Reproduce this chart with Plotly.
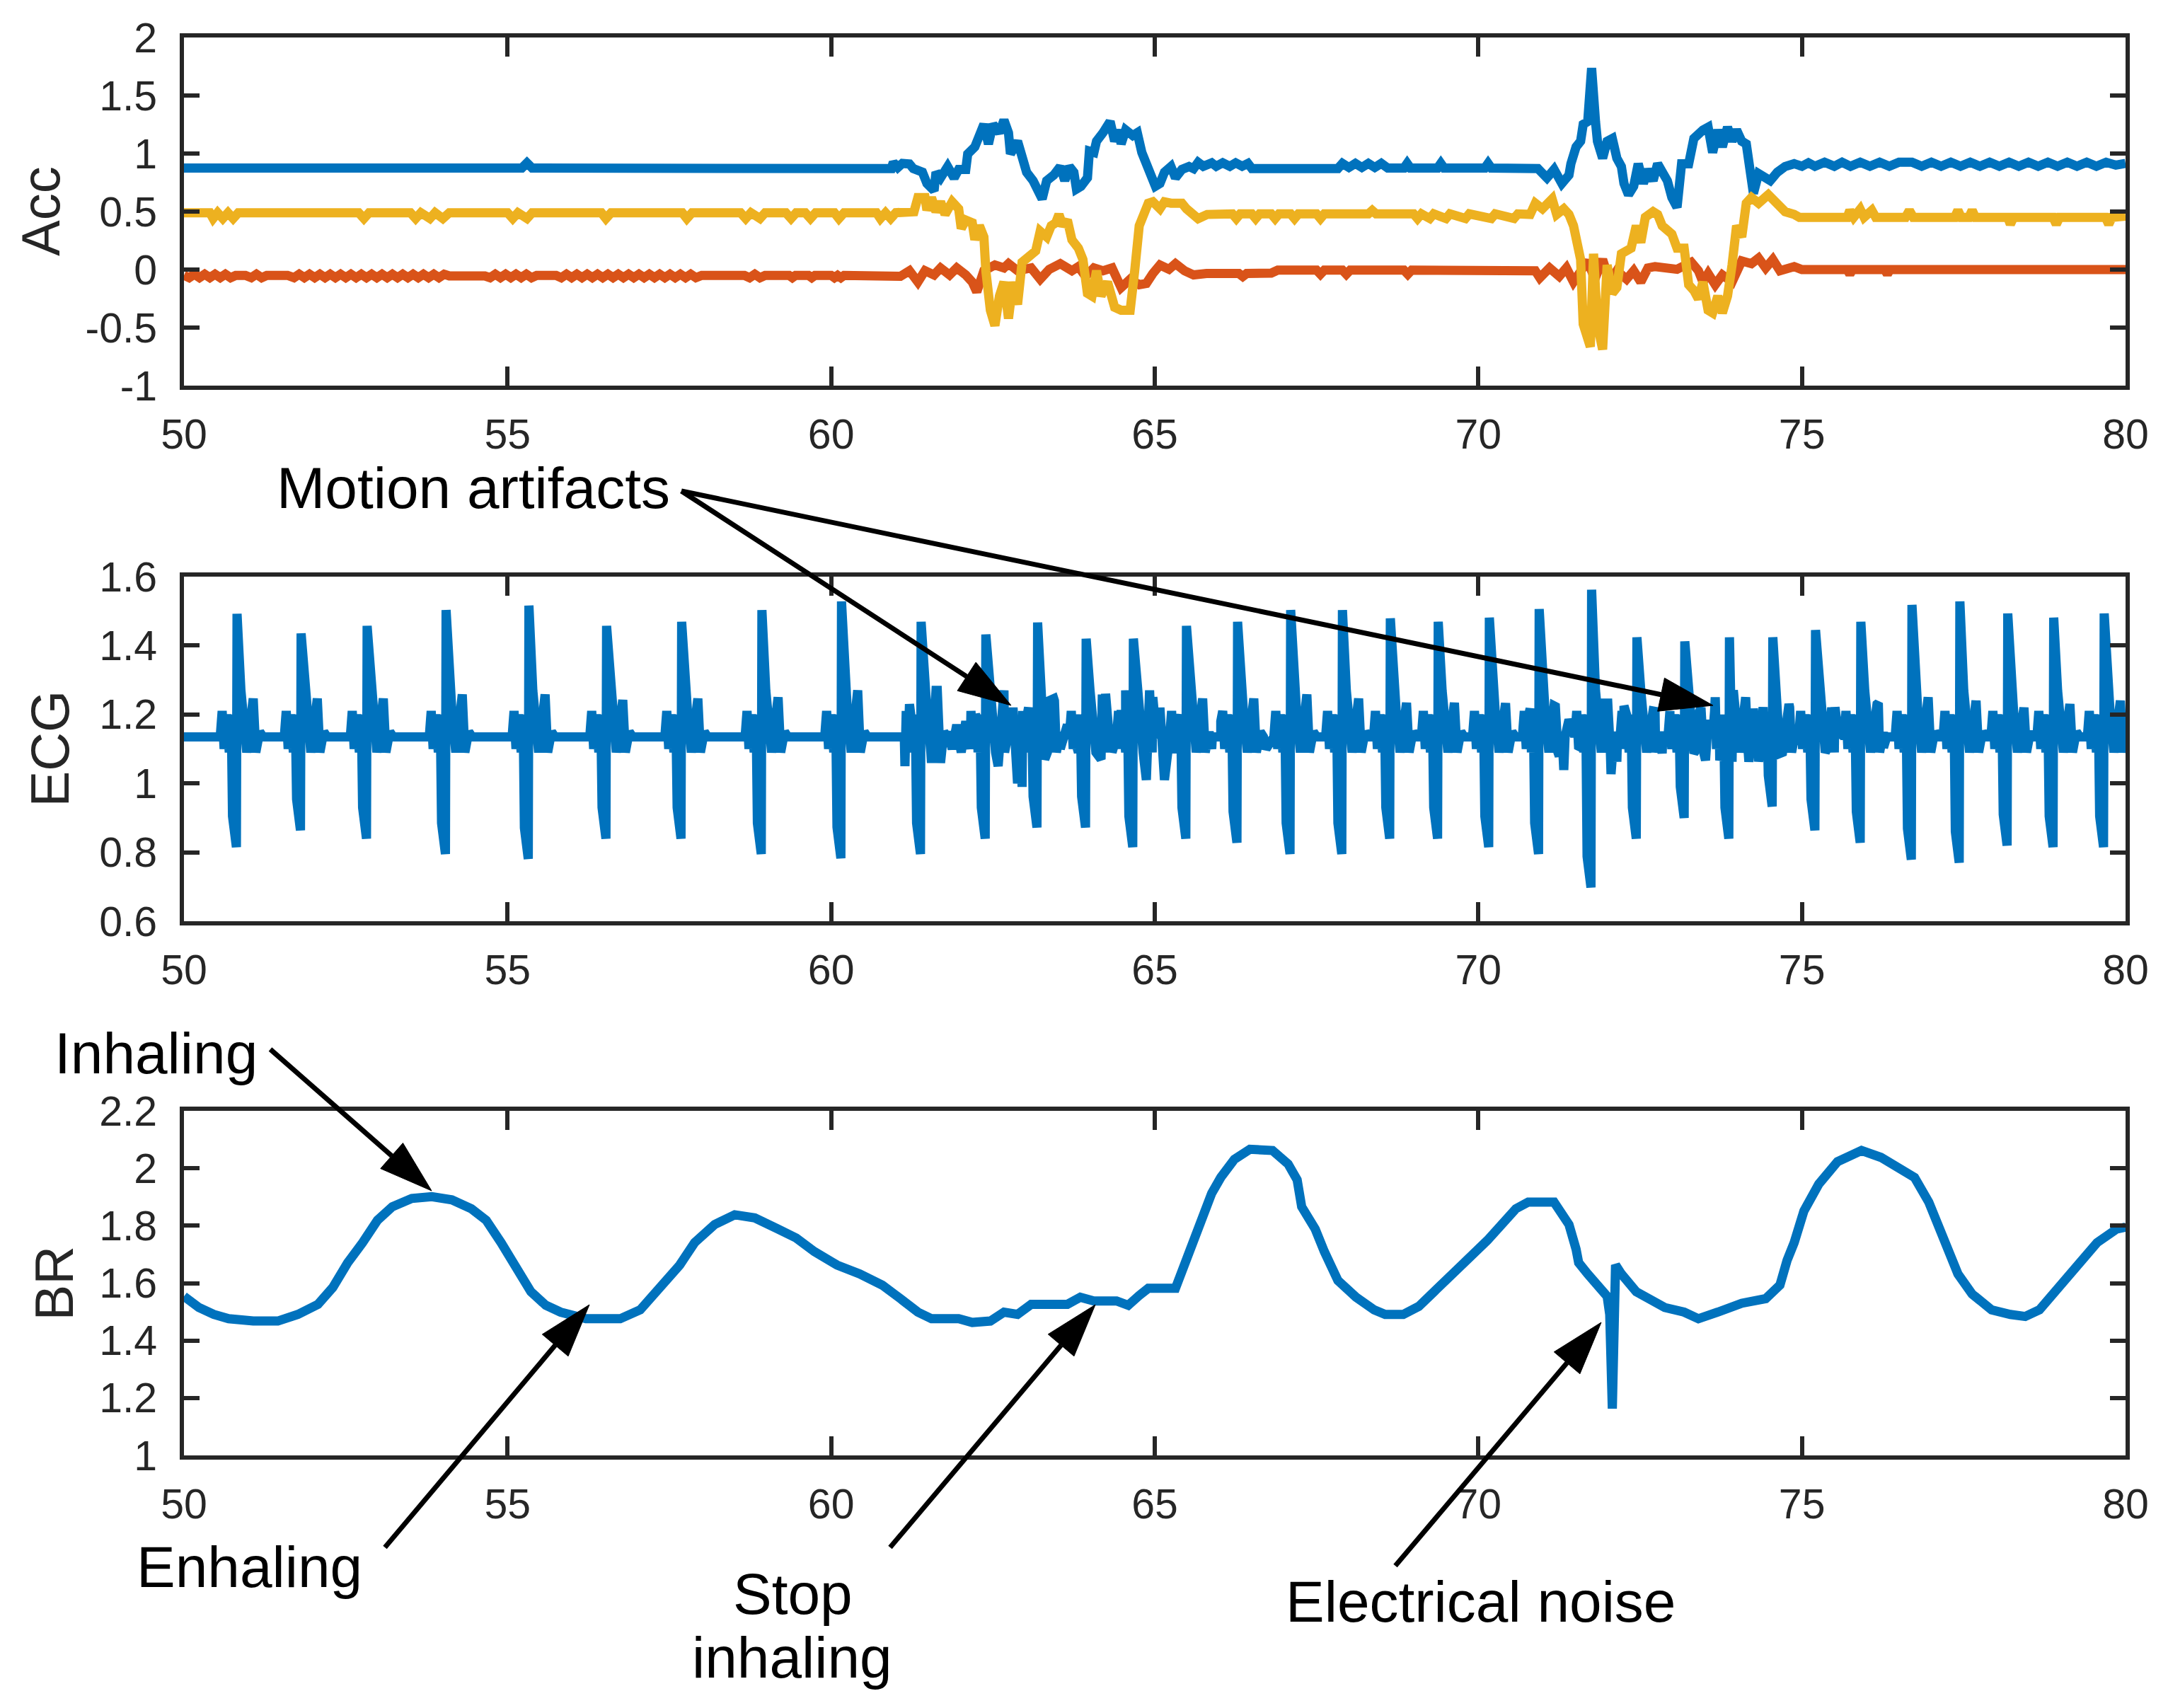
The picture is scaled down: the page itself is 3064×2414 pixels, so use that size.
import plotly.graph_objects as go

W, H = 3064, 2414
OFF = 8  # the page body adds an 8 px margin; compensate so the layout lands where the reference has it

# ---------------- data ----------------
x_ticks = [50, 55, 60, 65, 70, 75, 80]
x_ticktext = ["50", "55", "60", "65", "70", "75", "80"]
acc_ticks = [-1, -0.5, 0, 0.5, 1, 1.5, 2]
acc_ticktext = ["-1", "-0.5", "0", "0.5", "1", "1.5", "2"]
ecg_ticks = [0.6, 0.8, 1.0, 1.2, 1.4, 1.6]
ecg_ticktext = ["0.6", "0.8", "1", "1.2", "1.4", "1.6"]
br_ticks = [1.0, 1.2, 1.4, 1.6, 1.8, 2.0, 2.2]
br_ticktext = ["1", "1.2", "1.4", "1.6", "1.8", "2", "2.2"]

acc_blue_pts = [
    (50.0, 0.875), (55.22, 0.875), (55.30, 0.92), (55.38, 0.875), (60.93, 0.87),
    (60.96, 0.924), (61.03, 0.88), (61.10, 0.915), (61.21, 0.91), (61.27, 0.87),
    (61.41, 0.84), (61.48, 0.742), (61.59, 0.68), (61.62, 0.839), (61.69, 0.79),
    (61.80, 0.888), (61.90, 0.79), (61.97, 0.863), (62.08, 0.863), (62.11, 0.997),
    (62.22, 1.057), (62.25, 1.106), (62.36, 1.252), (62.43, 1.082), (62.50, 1.252),
    (62.60, 1.179), (62.67, 1.288), (62.74, 1.179), (62.77, 0.997), (62.88, 1.106),
    (62.95, 0.985), (63.02, 0.839), (63.12, 0.766), (63.19, 0.694), (63.26, 0.609),
    (63.33, 0.766), (63.44, 0.815), (63.54, 0.888), (63.61, 0.766), (63.68, 0.888),
    (63.75, 0.839), (63.79, 0.694), (63.86, 0.718), (63.96, 0.791), (63.99, 1.021),
    (64.06, 1.009), (64.10, 1.106), (64.20, 1.179), (64.31, 1.276), (64.38, 1.106),
    (64.45, 1.203), (64.48, 1.082), (64.55, 1.203), (64.66, 1.155), (64.73, 1.179),
    (64.80, 1.009), (64.87, 0.912), (64.94, 0.815), (65.01, 0.718), (65.08, 0.742),
    (65.15, 0.839), (65.25, 0.888), (65.32, 0.791), (65.42, 0.863), (65.53, 0.888),
    (65.60, 0.87), (65.67, 0.924), (65.75, 0.89), (65.88, 0.92), (65.95, 0.89),
    (66.05, 0.92), (66.16, 0.89), (66.25, 0.92), (66.35, 0.89), (66.44, 0.915),
    (66.50, 0.871), (67.83, 0.871), (67.90, 0.915), (68.00, 0.88), (68.10, 0.915),
    (68.20, 0.88), (68.30, 0.915), (68.40, 0.88), (68.50, 0.915), (68.60, 0.875),
    (68.85, 0.875), (68.90, 0.915), (68.95, 0.875), (69.37, 0.875), (69.42, 0.915),
    (69.47, 0.875), (70.10, 0.875), (70.15, 0.915), (70.20, 0.875), (70.92, 0.87),
    (71.06, 0.79), (71.17, 0.863), (71.29, 0.742), (71.40, 0.815), (71.43, 0.912),
    (71.51, 1.057), (71.58, 1.106), (71.62, 1.252), (71.69, 1.276), (71.75, 1.737),
    (71.81, 1.276), (71.84, 1.106), (71.92, 0.96), (71.99, 1.106), (72.07, 1.13),
    (72.14, 0.96), (72.21, 0.888), (72.25, 0.742), (72.32, 0.645), (72.40, 0.718),
    (72.47, 0.912), (72.55, 0.742), (72.62, 0.863), (72.70, 0.766), (72.77, 0.912),
    (72.84, 0.839), (72.92, 0.766), (72.99, 0.621), (73.07, 0.536), (73.14, 0.912),
    (73.25, 0.912), (73.33, 1.13), (73.40, 1.179), (73.47, 1.203), (73.55, 1.227),
    (73.62, 1.009), (73.70, 1.203), (73.77, 1.057), (73.85, 1.227), (73.92, 1.106),
    (73.99, 1.203), (74.07, 1.106), (74.14, 1.082), (74.22, 0.694), (74.25, 0.657),
    (74.33, 0.827), (74.51, 0.766), (74.62, 0.839), (74.74, 0.888), (74.88, 0.912),
    (75.00, 0.89), (75.10, 0.92), (75.20, 0.89), (75.35, 0.925), (75.50, 0.89),
    (75.62, 0.925), (75.75, 0.89), (75.90, 0.925), (76.05, 0.89), (76.20, 0.925),
    (76.35, 0.89), (76.50, 0.925), (76.70, 0.925), (76.85, 0.89), (77.00, 0.925),
    (77.15, 0.89), (77.30, 0.925), (77.45, 0.89), (77.60, 0.925), (77.75, 0.89),
    (77.90, 0.925), (78.05, 0.89), (78.20, 0.925), (78.35, 0.89), (78.50, 0.925),
    (78.65, 0.89), (78.80, 0.925), (78.95, 0.89), (79.10, 0.925), (79.25, 0.89),
    (79.40, 0.925), (79.55, 0.89), (79.70, 0.925), (79.85, 0.90), (80.0, 0.915),
]

acc_orange_pts = [
    (50.0, -0.05), (50.08, -0.07), (50.16, -0.04), (50.24, -0.07), (50.32, -0.04),
    (50.40, -0.07), (50.48, -0.04), (50.56, -0.07), (50.64, -0.04), (50.72, -0.07),
    (50.80, -0.05), (50.95, -0.05), (51.04, -0.07), (51.12, -0.04), (51.20, -0.07),
    (51.28, -0.05), (51.60, -0.05), (51.70, -0.07), (51.78, -0.04), (51.86, -0.07),
    (51.94, -0.04), (52.02, -0.07), (52.10, -0.04), (52.18, -0.07), (52.26, -0.04),
    (52.34, -0.07), (52.42, -0.04), (52.50, -0.07), (52.58, -0.04), (52.66, -0.07),
    (52.74, -0.04), (52.82, -0.07), (52.90, -0.04), (52.98, -0.07), (53.06, -0.04),
    (53.14, -0.07), (53.22, -0.04), (53.30, -0.07), (53.38, -0.04), (53.46, -0.07),
    (53.54, -0.04), (53.62, -0.07), (53.70, -0.04), (53.78, -0.07), (53.86, -0.04),
    (53.94, -0.07), (54.02, -0.04), (54.10, -0.055), (54.65, -0.055), (54.73, -0.07),
    (54.81, -0.04), (54.89, -0.07), (54.97, -0.04), (55.05, -0.07), (55.13, -0.04),
    (55.21, -0.07), (55.29, -0.04), (55.37, -0.07), (55.45, -0.05), (55.75, -0.05),
    (55.83, -0.07), (55.91, -0.04), (55.99, -0.07), (56.07, -0.04), (56.15, -0.07),
    (56.23, -0.04), (56.31, -0.07), (56.39, -0.04), (56.47, -0.07), (56.55, -0.04),
    (56.63, -0.07), (56.71, -0.04), (56.79, -0.07), (56.87, -0.04), (56.95, -0.07),
    (57.03, -0.04), (57.11, -0.07), (57.19, -0.04), (57.27, -0.07), (57.35, -0.04),
    (57.43, -0.07), (57.51, -0.04), (57.59, -0.07), (57.67, -0.04), (57.75, -0.07),
    (57.83, -0.04), (57.91, -0.07), (58.00, -0.05), (58.66, -0.05), (58.74, -0.07),
    (58.82, -0.04), (58.90, -0.07), (58.98, -0.05), (59.35, -0.05), (59.40, -0.07),
    (59.45, -0.05), (59.65, -0.05), (59.70, -0.07), (59.75, -0.05), (60.00, -0.05),
    (60.05, -0.07), (60.10, -0.05), (60.15, -0.07), (60.20, -0.05), (61.07, -0.058),
    (61.21, -0.010), (61.34, -0.107), (61.45, -0.010), (61.59, -0.046), (61.69, 0.014),
    (61.83, -0.046), (61.94, 0.014), (62.08, -0.046), (62.18, -0.107), (62.25, -0.192),
    (62.36, -0.010), (62.53, 0.039), (62.67, 0.014), (62.74, 0.051), (62.88, -0.010),
    (63.09, 0.014), (63.23, -0.083), (63.37, 0.002), (63.54, 0.051), (63.72, -0.010),
    (63.82, 0.026), (63.93, -0.058), (64.06, 0.014), (64.20, -0.010), (64.34, 0.014),
    (64.48, -0.155), (64.62, -0.083), (64.76, -0.131), (64.87, -0.119), (64.97, -0.034),
    (65.08, 0.039), (65.22, 0.002), (65.32, 0.051), (65.46, -0.010), (65.60, -0.046),
    (65.80, -0.034), (66.30, -0.034), (66.36, -0.06), (66.42, -0.034), (66.80, -0.03),
    (66.90, -0.005), (67.50, -0.005), (67.56, -0.04), (67.62, -0.005), (67.90, -0.005),
    (67.96, -0.04), (68.02, -0.005), (68.85, -0.005), (68.91, -0.04), (68.97, -0.005),
    (70.88, -0.010), (70.95, -0.071), (71.10, 0.014), (71.25, -0.058), (71.36, 0.014),
    (71.47, -0.107), (71.58, -0.010), (71.69, 0.075), (71.80, -0.083), (71.92, 0.087),
    (72.03, -0.107), (72.14, -0.010), (72.29, -0.083), (72.40, -0.010), (72.51, -0.107),
    (72.62, 0.014), (72.73, 0.026), (72.88, 0.014), (73.07, 0.002), (73.29, 0.063),
    (73.40, -0.010), (73.47, -0.107), (73.55, -0.034), (73.66, -0.131), (73.77, -0.046),
    (73.92, -0.107), (74.07, 0.075), (74.22, 0.051), (74.33, 0.099), (74.44, 0.014),
    (74.55, 0.087), (74.66, -0.010), (74.88, 0.026), (75.00, 0.0), (75.70, 0.0),
    (75.74, -0.04), (75.78, 0.0), (76.28, 0.0), (76.32, -0.04), (76.36, 0.0), (80.0, 0.0),
]

acc_yellow_pts = [
    (50.0, 0.49), (50.40, 0.49), (50.45, 0.44), (50.52, 0.49), (50.60, 0.44),
    (50.68, 0.49), (50.76, 0.44), (50.84, 0.49), (52.70, 0.49), (52.78, 0.44),
    (52.86, 0.49), (53.50, 0.49), (53.58, 0.44), (53.66, 0.49), (53.80, 0.44),
    (53.88, 0.49), (54.00, 0.44), (54.10, 0.49), (55.00, 0.49), (55.08, 0.44),
    (55.16, 0.49), (55.30, 0.44), (55.38, 0.49), (56.45, 0.49), (56.52, 0.44),
    (56.60, 0.49), (57.70, 0.49), (57.77, 0.44), (57.85, 0.49), (58.60, 0.49),
    (58.68, 0.44), (58.76, 0.49), (58.90, 0.44), (58.98, 0.49), (59.30, 0.49),
    (59.38, 0.44), (59.46, 0.49), (59.60, 0.49), (59.68, 0.44), (59.76, 0.49),
    (60.05, 0.49), (60.12, 0.44), (60.20, 0.49), (60.70, 0.49), (60.76, 0.44),
    (60.84, 0.49), (60.92, 0.44), (61.00, 0.49), (61.28, 0.499), (61.34, 0.621),
    (61.45, 0.621), (61.48, 0.512), (61.55, 0.621), (61.62, 0.499), (61.69, 0.584),
    (61.76, 0.475), (61.87, 0.584), (61.97, 0.524), (62.01, 0.354), (62.08, 0.427),
    (62.18, 0.403), (62.22, 0.257), (62.29, 0.378), (62.36, 0.281), (62.39, -0.010),
    (62.46, -0.350), (62.53, -0.483), (62.60, -0.228), (62.67, -0.107), (62.74, -0.422),
    (62.81, -0.107), (62.88, -0.301), (62.95, 0.063), (63.05, 0.111), (63.16, 0.160),
    (63.23, 0.330), (63.33, 0.281), (63.40, 0.378), (63.47, 0.403), (63.52, 0.475),
    (63.58, 0.378), (63.65, 0.427), (63.72, 0.257), (63.82, 0.184), (63.89, 0.087),
    (63.96, -0.204), (64.03, -0.228), (64.10, -0.010), (64.17, -0.228), (64.27, -0.107),
    (64.38, -0.325), (64.48, -0.350), (64.62, -0.350), (64.69, -0.010), (64.76, 0.378),
    (64.83, 0.475), (64.90, 0.572), (64.97, 0.584), (65.08, 0.524), (65.15, 0.584),
    (65.25, 0.572), (65.42, 0.572), (65.49, 0.524), (65.67, 0.439), (65.81, 0.475),
    (66.20, 0.48), (66.26, 0.44), (66.32, 0.48), (66.50, 0.48), (66.56, 0.44),
    (66.62, 0.48), (66.80, 0.48), (66.86, 0.44), (66.92, 0.48), (67.10, 0.48),
    (67.16, 0.44), (67.22, 0.48), (67.50, 0.48), (67.56, 0.44), (67.62, 0.48),
    (68.30, 0.48), (68.36, 0.51), (68.42, 0.48), (69.00, 0.48), (69.06, 0.44),
    (69.12, 0.48), (69.25, 0.44), (69.31, 0.48), (69.50, 0.44), (69.56, 0.48),
    (69.80, 0.44), (69.86, 0.48), (70.20, 0.44), (70.26, 0.48), (70.55, 0.44),
    (70.61, 0.48), (70.80, 0.475), (70.88, 0.572), (70.99, 0.524), (71.14, 0.609),
    (71.21, 0.475), (71.32, 0.524), (71.40, 0.475), (71.47, 0.378), (71.55, 0.184),
    (71.58, 0.087), (71.62, -0.471), (71.73, -0.665), (71.78, 0.136), (71.84, -0.471),
    (71.92, -0.689), (71.99, 0.039), (72.07, -0.204), (72.14, -0.155), (72.21, 0.136),
    (72.29, 0.160), (72.36, 0.184), (72.44, 0.378), (72.51, 0.233), (72.58, 0.451),
    (72.70, 0.499), (72.77, 0.475), (72.84, 0.378), (72.99, 0.306), (73.07, 0.184),
    (73.18, 0.184), (73.25, -0.131), (73.33, -0.180), (73.40, -0.253), (73.47, -0.107),
    (73.55, -0.350), (73.62, -0.374), (73.70, -0.228), (73.77, -0.374), (73.85, -0.228),
    (73.92, 0.039), (73.99, 0.378), (74.07, 0.281), (74.14, 0.572), (74.22, 0.621),
    (74.33, 0.572), (74.48, 0.645), (74.62, 0.572), (74.74, 0.499), (74.88, 0.475),
    (74.96, 0.45), (75.70, 0.45), (75.74, 0.51), (75.80, 0.45), (75.90, 0.52),
    (75.96, 0.45), (76.08, 0.51), (76.14, 0.45), (76.60, 0.45), (76.66, 0.51),
    (76.72, 0.45), (77.36, 0.45), (77.41, 0.51), (77.46, 0.45), (77.58, 0.45),
    (77.63, 0.51), (77.68, 0.45), (78.18, 0.45), (78.22, 0.39), (78.27, 0.45),
    (78.88, 0.45), (78.93, 0.39), (78.98, 0.45), (79.69, 0.45), (79.74, 0.39),
    (79.79, 0.45), (80.0, 0.46),
]

# ECG: beat times, R peaks, S troughs, T-wave peaks
ecg_beat_time = [50.82, 51.81, 52.83, 54.05, 55.33, 56.53, 57.69, 58.93, 60.16, 61.39,
                 62.39, 63.19, 63.94, 64.67, 65.49, 66.28, 67.10, 67.90, 68.64, 69.38,
                 70.17, 70.94, 71.75, 72.45, 73.19, 73.88, 74.55, 75.21, 75.91, 76.70,
                 77.44, 78.18, 78.89, 79.67]
ecg_r_peak = [1.492, 1.435, 1.457, 1.503, 1.516, 1.457, 1.469, 1.503, 1.528, 1.469,
              1.432, 1.467, 1.420, 1.420, 1.457, 1.469, 1.503, 1.503, 1.479, 1.469,
              1.481, 1.506, 1.562, 1.424, 1.412, 1.424, 1.424, 1.445, 1.469, 1.518,
              1.528, 1.493, 1.481, 1.493]
ecg_s_trough = [0.815, 0.864, 0.840, 0.795, 0.781, 0.840, 0.840, 0.795, 0.783, 0.795,
                0.840, 0.872, 0.872, 0.815, 0.840, 0.828, 0.795, 0.795, 0.840, 0.840,
                0.815, 0.795, 0.698, 0.840, 0.900, 0.840, 0.933, 0.864, 0.828, 0.779,
                0.770, 0.820, 0.815, 0.815]
ecg_t_wave = [1.246, 1.246, 1.246, 1.258, 1.258, 1.242, 1.246, 1.250, 1.270, 1.270,
              1.270, 1.246, 1.258, 1.270, 1.246, 1.246, 1.258, 1.246, 1.234, 1.234,
              1.233, 1.223, 1.233, 1.210, 1.220, 1.250, 1.230, 1.220, 1.230, 1.250,
              1.240, 1.220, 1.230, 1.240]
ecg_baseline = 1.135
# noise samples during the motion periods
ecg_artifact_pts = [
    (61.14, 1.05), (61.21, 1.23), (61.28, 1.20), (61.55, 1.06), (61.62, 1.27),
    (61.69, 1.06), (61.80, 1.15), (61.87, 1.10), (61.94, 1.17), (62.01, 1.09),
    (62.08, 1.18), (62.15, 1.10), (62.25, 1.19), (62.58, 1.05), (62.67, 1.27),
    (62.74, 1.15), (62.81, 1.22), (62.88, 1.00), (62.95, 0.99), (63.05, 1.22),
    (63.30, 1.07), (63.37, 1.24), (63.45, 1.24), (63.54, 1.10), (63.65, 1.17),
    (63.79, 1.11), (64.06, 1.17), (64.17, 1.07), (64.24, 1.26), (64.34, 1.09),
    (64.48, 1.20), (64.55, 1.27), (64.87, 1.01), (64.97, 1.25), (65.08, 1.22),
    (65.15, 1.01), (65.25, 1.20), (65.32, 1.10), (65.39, 1.19), (65.88, 1.10),
    (66.02, 1.18), (66.72, 1.10), (70.73, 1.168), (70.80, 1.217), (71.17, 1.225),
    (71.25, 1.079), (71.32, 1.039), (71.40, 1.185), (71.47, 1.152), (71.58, 1.104),
    (71.95, 1.233), (72.05, 1.027), (72.14, 1.063), (72.25, 1.225), (72.32, 1.104),
    (72.58, 1.152), (72.73, 1.209), (72.84, 1.087), (72.96, 1.168), (73.33, 1.087),
    (73.40, 1.201), (73.51, 1.067), (73.59, 1.185), (73.66, 1.250), (73.73, 1.067),
    (73.92, 1.063), (73.99, 1.217), (74.10, 1.233), (74.18, 1.063), (74.25, 1.217),
    (74.33, 1.063), (74.40, 1.221), (74.66, 1.087), (74.81, 1.221), (74.96, 1.152),
    (75.40, 1.104), (75.51, 1.221), (75.70, 1.112), (76.18, 1.233), (76.26, 1.104),
]

br_pts = [
    (50.0, 1.554), (50.23, 1.515), (50.46, 1.491), (50.69, 1.476), (51.07, 1.468),
    (51.45, 1.468), (51.76, 1.491), (52.07, 1.526), (52.30, 1.585), (52.53, 1.671),
    (52.76, 1.741), (52.99, 1.819), (53.22, 1.866), (53.52, 1.895), (53.83, 1.901),
    (54.14, 1.890), (54.44, 1.859), (54.67, 1.819), (54.90, 1.741), (55.13, 1.648),
    (55.36, 1.570), (55.59, 1.523), (55.82, 1.499), (56.21, 1.476), (56.74, 1.476),
    (57.05, 1.507), (57.36, 1.585), (57.66, 1.663), (57.89, 1.741), (58.20, 1.804),
    (58.51, 1.838), (58.82, 1.827), (59.18, 1.788), (59.46, 1.757), (59.74, 1.710),
    (60.09, 1.663), (60.44, 1.632), (60.79, 1.593), (61.07, 1.546), (61.34, 1.499),
    (61.55, 1.476), (61.97, 1.476), (62.18, 1.463), (62.46, 1.468), (62.67, 1.499),
    (62.88, 1.491), (63.09, 1.526), (63.65, 1.526), (63.85, 1.551), (64.06, 1.538),
    (64.41, 1.538), (64.59, 1.523), (64.76, 1.557), (64.90, 1.582), (65.32, 1.582),
    (65.46, 1.663), (65.60, 1.741), (65.74, 1.835), (65.88, 1.913), (66.02, 1.968),
    (66.23, 2.031), (66.47, 2.066), (66.82, 2.062), (67.06, 2.015), (67.20, 1.960),
    (67.27, 1.866), (67.48, 1.788), (67.62, 1.710), (67.83, 1.609), (68.11, 1.551),
    (68.39, 1.507), (68.56, 1.491), (68.84, 1.491), (69.08, 1.519), (69.36, 1.577),
    (69.69, 1.655), (70.14, 1.749), (70.58, 1.859), (70.77, 1.882), (71.17, 1.882),
    (71.40, 1.804), (71.51, 1.718), (71.55, 1.671), (71.69, 1.632), (71.88, 1.585),
    (71.99, 1.554), (72.03, 1.491), (72.07, 1.163), (72.12, 1.663), (72.21, 1.632),
    (72.44, 1.570), (72.66, 1.538), (72.88, 1.515), (73.18, 1.499), (73.40, 1.476),
    (73.70, 1.499), (74.07, 1.530), (74.44, 1.546), (74.66, 1.593), (74.77, 1.679),
    (74.88, 1.741), (75.03, 1.851), (75.26, 1.945), (75.55, 2.023), (75.92, 2.062),
    (76.22, 2.038), (76.44, 2.007), (76.74, 1.968), (76.96, 1.882), (77.11, 1.804),
    (77.26, 1.710), (77.41, 1.632), (77.63, 1.562), (77.93, 1.507), (78.22, 1.491),
    (78.45, 1.484), (78.67, 1.507), (78.96, 1.585), (79.26, 1.671), (79.56, 1.741),
    (79.86, 1.788), (80.0, 1.795),
]

# ---------------- build ECG polyline from the read beat values ----------------
ecg_points = [(50.0, ecg_baseline), (80.0, ecg_baseline)]
for t, r, s, tw in zip(ecg_beat_time, ecg_r_peak, ecg_s_trough, ecg_t_wave):
    ecg_points += [
        (t - 0.26, ecg_baseline), (t - 0.23, 1.21), (t - 0.20, 1.10), (t - 0.16, 1.20),
        (t - 0.12, 1.09), (t - 0.09, 1.20), (t - 0.07, s + 0.09), (t - 0.01, s),
        (t, r), (t + 0.06, 1.27), (t + 0.09, 1.21), (t + 0.15, 1.09), (t + 0.25, tw),
        (t + 0.29, 1.09), (t + 0.35, 1.15), (t + 0.40, ecg_baseline),
    ]
ecg_points += ecg_artifact_pts
ecg_points = [p for p in ecg_points if 50.0 <= p[0] <= 80.0]
ecg_points.sort(key=lambda p: p[0])


def unzip(pts):
    return [p[0] for p in pts], [p[1] for p in pts]


# ---------------- figure ----------------
AX_L, AX_R = 260 - OFF, 3004 - OFF
PANELS = {"acc": (53 - OFF, 545 - OFF), "ecg": (815 - OFF, 1302 - OFF), "br": (1570 - OFF, 2057 - OFF)}


def xdom():
    return [AX_L / W, AX_R / W]


def ydom(key):
    top, bot = PANELS[key]
    return [1 - bot / H, 1 - top / H]


BLUE, ORANGE, YELLOW = "#0072BD", "#D95319", "#EDB120"
LW = 13

fig = go.Figure()
bx, by = unzip(acc_blue_pts)
ox, oy = unzip(acc_orange_pts)
yx, yy = unzip(acc_yellow_pts)
ex, ey = unzip(ecg_points)
rx, ry = unzip(br_pts)
fig.add_trace(go.Scatter(x=bx, y=by, mode="lines", line=dict(color=BLUE, width=LW), xaxis="x", yaxis="y"))
fig.add_trace(go.Scatter(x=ox, y=oy, mode="lines", line=dict(color=ORANGE, width=LW), xaxis="x", yaxis="y"))
fig.add_trace(go.Scatter(x=yx, y=yy, mode="lines", line=dict(color=YELLOW, width=LW), xaxis="x", yaxis="y"))
fig.add_trace(go.Scatter(x=ex, y=ey, mode="lines", line=dict(color=BLUE, width=LW), xaxis="x2", yaxis="y2"))
fig.add_trace(go.Scatter(x=rx, y=ry, mode="lines", line=dict(color=BLUE, width=LW), xaxis="x3", yaxis="y3"))

AXC = "#262626"
TICKFONT = dict(family="Liberation Sans, Arial, sans-serif", size=59, color=AXC)
common = dict(showline=True, linecolor=AXC, linewidth=6, mirror="ticks", ticks="inside",
              tickcolor=AXC, tickwidth=6, showgrid=False, zeroline=False, tickfont=TICKFONT,
              automargin=False)


def xaxis(anchor):
    return dict(common, domain=xdom(), range=[50, 80], tickmode="array", tickvals=x_ticks,
                ticktext=x_ticktext, ticklen=27, anchor=anchor, ticklabelstandoff=12)


def yaxis(anchor, key, rng, vals, text):
    return dict(common, domain=ydom(key), range=rng, tickmode="array", tickvals=vals,
                ticktext=text, ticklen=22, anchor=anchor, ticklabelstandoff=20)


fig.update_layout(
    width=W, height=H, autosize=False,
    margin=dict(l=0, r=0, t=0, b=0, pad=0, autoexpand=False),
    paper_bgcolor="white", plot_bgcolor="white",
    showlegend=False,
    xaxis=xaxis("y"),
    yaxis=yaxis("x", "acc", [-1, 2], acc_ticks, acc_ticktext),
    xaxis2=xaxis("y2"),
    yaxis2=yaxis("x2", "ecg", [0.6, 1.6], ecg_ticks, ecg_ticktext),
    xaxis3=xaxis("y3"),
    yaxis3=yaxis("x3", "br", [1.0, 2.2], br_ticks, br_ticktext),
)


def P(X, Y):
    return (X - OFF) / W, 1 - (Y - OFF) / H


# axis titles
TITLEFONT = dict(family="Liberation Sans, Arial, sans-serif", size=76, color=AXC)
for name, yref, xpx in [("Acc", "y domain", 57), ("ECG", "y2 domain", 70), ("BR", "y3 domain", 76)]:
    fig.add_annotation(text=name, xref="paper", yref=yref, x=P(xpx, 0)[0], y=0.5, showarrow=False,
                       textangle=-90, xanchor="center", yanchor="middle", font=TITLEFONT)

# annotation texts
ANNFONT = dict(family="Liberation Sans, Arial, sans-serif", size=82, color="black")
for txt, cx, cy in [("Motion artifacts", 669, 690), ("Inhaling", 220, 1488), ("Enhaling", 352, 2214),
                    ("Stop", 1120, 2252), ("inhaling", 1119, 2342), ("Electrical noise", 2092, 2263)]:
    px_, py_ = P(cx, cy)
    fig.add_annotation(text=txt, xref="paper", yref="paper", x=px_, y=py_, showarrow=False,
                       xanchor="center", yanchor="middle", font=ANNFONT)

# arrows (line + filled triangular head), pixel geometry -> paper coords
arrows = [((963, 694), (1429, 997)), ((963, 694), (2421, 997)), ((382, 1483), (610, 1683)),
          ((544, 2187), (833, 1844)), ((1258, 2187), (1548, 1844)), ((1972, 2213), (2263, 1869))]
HEAD_L, HEAD_HW = 75, 24

for (sx, sy), (tx, ty) in arrows:
    dx, dy = tx - sx, ty - sy
    n = (dx * dx + dy * dy) ** 0.5
    ux, uy = dx / n, dy / n
    bxp, byp = tx - HEAD_L * ux, ty - HEAD_L * uy
    nx, ny = -uy, ux
    x0, y0 = P(sx, sy)
    x1, y1 = P(bxp, byp)
    fig.add_shape(type="line", xref="paper", yref="paper", x0=x0, y0=y0, x1=x1, y1=y1,
                  line=dict(color="black", width=7), layer="above")
    c1 = P(bxp + HEAD_HW * nx, byp + HEAD_HW * ny)
    c2 = P(bxp - HEAD_HW * nx, byp - HEAD_HW * ny)
    tp = P(tx, ty)
    path = f"M {tp[0]},{tp[1]} L {c1[0]},{c1[1]} L {c2[0]},{c2[1]} Z"
    fig.add_shape(type="path", xref="paper", yref="paper", path=path,
                  fillcolor="black", line=dict(color="black", width=1), layer="above")

fig.write_html("out.html")
